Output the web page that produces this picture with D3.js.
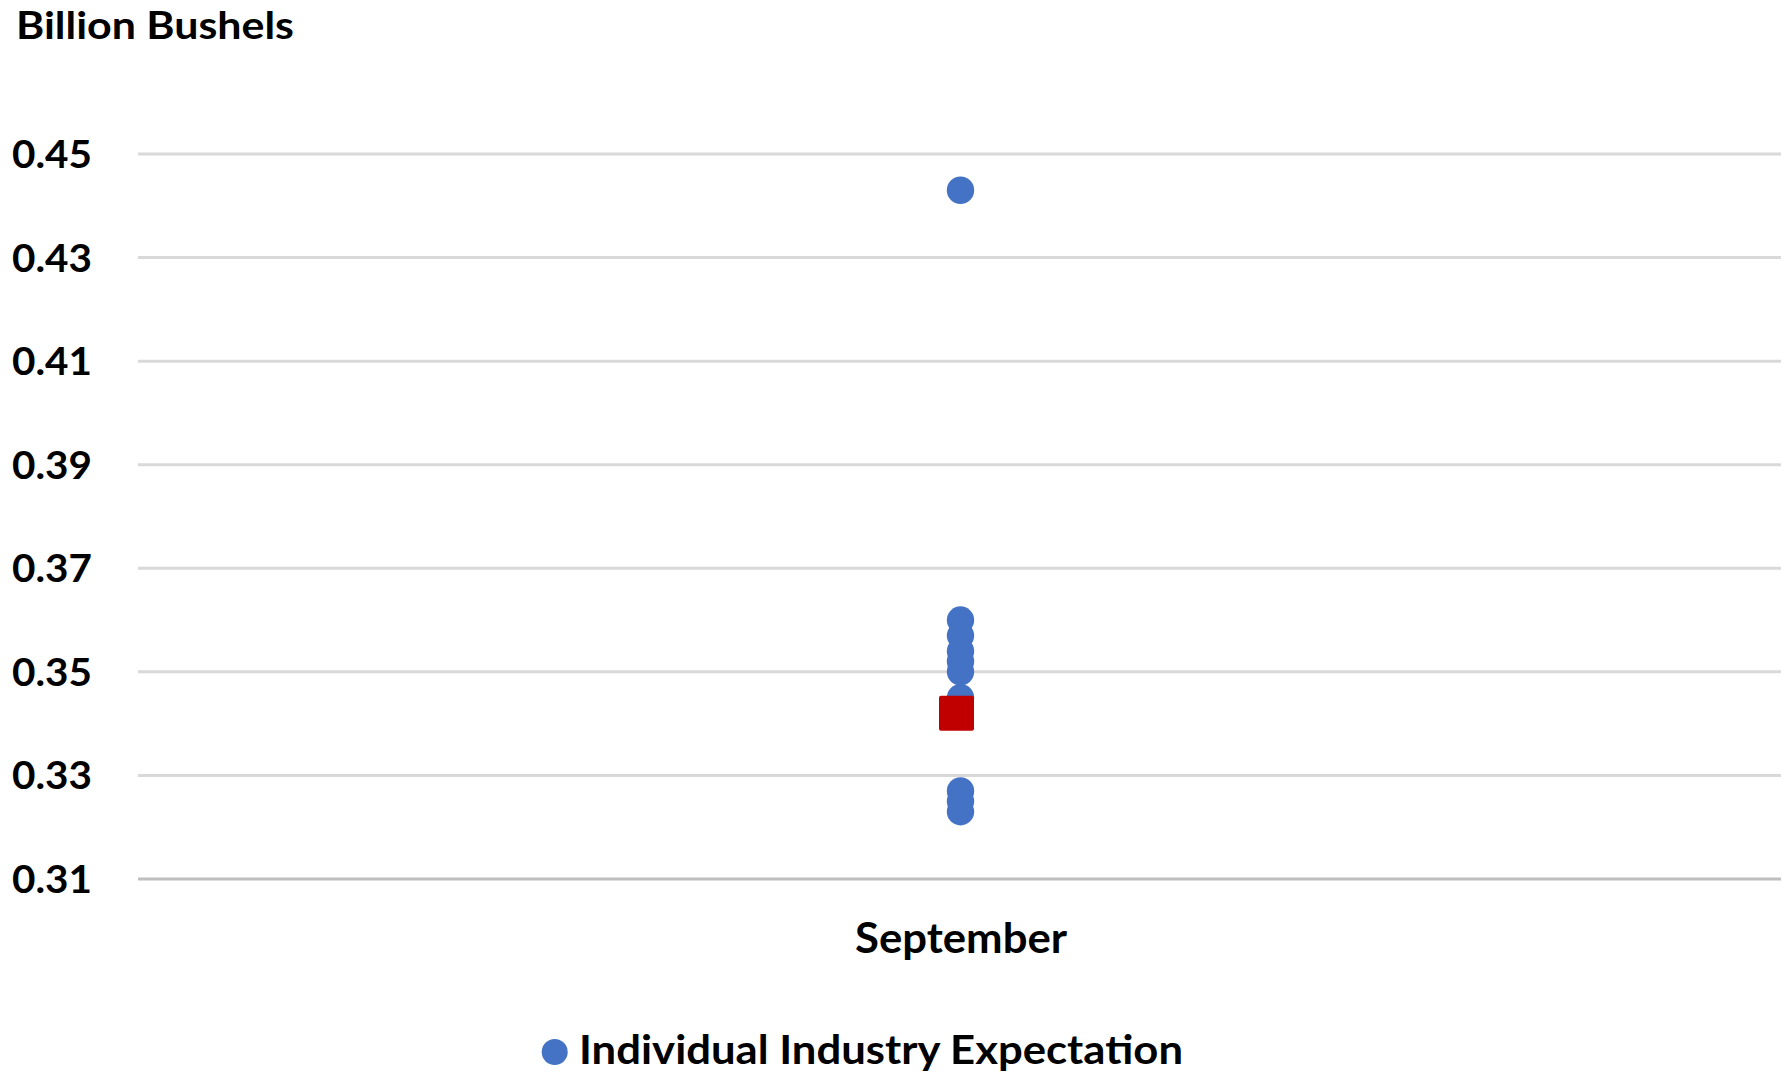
<!DOCTYPE html>
<html>
<head>
<meta charset="utf-8">
<script src="https://cdn.jsdelivr.net/npm/d3@7"></script>
<style>
  body { margin: 0; background: #fff; }
  svg text { font-family: Lato, "Open Sans", sans-serif; font-weight: 700; fill: #000; }
</style>
</head>
<body>
<div chart></div>
<script>
const width = 1787;
const height = 1073;

const categories = ["September"];
const expectations = [0.443, 0.360, 0.357, 0.354, 0.352, 0.350, 0.345, 0.327, 0.325, 0.323];
const average = [0.342];
const yTicks = [0.31, 0.33, 0.35, 0.37, 0.39, 0.41, 0.43, 0.45];
const yTitle = "Billion Bushels";
const legendLabel = "Individual Industry Expectation";

const margin = { top: 154, right: 6, bottom: 194, left: 138 };

const svg = d3.select("[chart]")
  .append("svg")
  .attr("width", width)
  .attr("height", height);

const x = d3.scaleBand()
  .domain(categories)
  .range([margin.left, width - margin.right]);

const y = d3.scaleLinear()
  .domain([0.31, 0.45])
  .range([height - margin.bottom, margin.top]);

// gridlines
svg.append("g")
  .selectAll("line")
  .data(yTicks.slice(1))
  .join("line")
  .attr("x1", margin.left)
  .attr("x2", width - margin.right)
  .attr("y1", d => y(d))
  .attr("y2", d => y(d))
  .attr("stroke", "#d9d9d9")
  .attr("stroke-width", 3);

// baseline
svg.append("line")
  .attr("x1", margin.left)
  .attr("x2", width - margin.right)
  .attr("y1", y(0.31))
  .attr("y2", y(0.31))
  .attr("stroke", "#bfbfbf")
  .attr("stroke-width", 3);

// y tick labels
svg.append("g")
  .selectAll("text")
  .data(yTicks)
  .join("text")
  .attr("x", 12)
  .attr("y", d => y(d) + 14)
  .style("font-size", "39px")
  .attr("textLength", 80)
  .attr("lengthAdjust", "spacingAndGlyphs")
  .text(d => d3.format(".2f")(d));

// axis title
svg.append("text")
  .attr("x", 16)
  .attr("y", 39)
  .style("font-size", "38px")
  .attr("textLength", 278)
  .attr("lengthAdjust", "spacingAndGlyphs")
  .text(yTitle);

// category label
svg.append("g")
  .selectAll("text")
  .data(categories)
  .join("text")
  .attr("x", 855)
  .attr("y", 953)
  .style("font-size", "42px")
  .attr("textLength", 212)
  .attr("lengthAdjust", "spacingAndGlyphs")
  .text(d => d);

const cx = x(categories[0]) + x.bandwidth() / 2 + 1;

svg.append("g")
  .selectAll("circle")
  .data(expectations)
  .join("circle")
  .attr("cx", cx)
  .attr("cy", d => y(d))
  .attr("r", 13.7)
  .attr("fill", "#4472c4");

const sq = 35;
svg.append("g")
  .selectAll("rect")
  .data(average)
  .join("rect")
  .attr("x", cx - 4 - sq / 2)
  .attr("y", d => y(d) - sq / 2)
  .attr("width", sq)
  .attr("height", sq)
  .attr("rx", 2)
  .attr("fill", "#c00000");

// legend
const legend = svg.append("g");
legend.append("circle")
  .attr("cx", 554.7)
  .attr("cy", 1052)
  .attr("r", 13)
  .attr("fill", "#4472c4");
legend.append("text")
  .attr("x", 579)
  .attr("y", 1064)
  .style("font-size", "40px")
  .attr("textLength", 604)
  .attr("lengthAdjust", "spacingAndGlyphs")
  .text(legendLabel);
</script>
</body>
</html>
